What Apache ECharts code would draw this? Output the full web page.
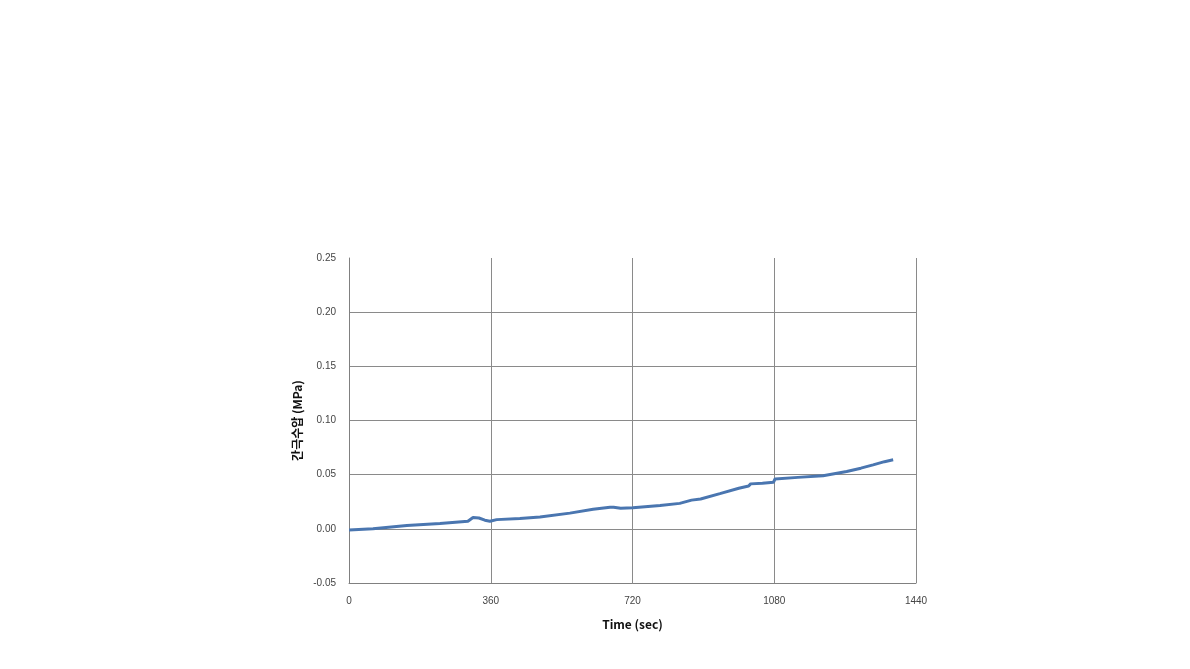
<!DOCTYPE html>
<html>
<head>
<meta charset="utf-8">
<script src="https://cdn.jsdelivr.net/npm/echarts@6/dist/echarts.min.js"></script>
<style>html,body{margin:0;padding:0;background:#fff;}#c{width:1190px;height:669px;}</style>
</head>
<body>
<div id="c"></div>
<script>
var timeSec = [0, 61, 147, 231, 302, 315, 330, 345, 358, 375, 434, 485, 561, 620, 663, 672, 690, 721, 790, 840, 870, 893, 942, 990, 1015, 1020, 1050, 1078, 1082, 1140, 1204, 1264, 1300, 1331, 1360, 1382];
var porePressure = [-0.001, 0.000, 0.003, 0.005, 0.007, 0.0105, 0.0100, 0.0080, 0.0070, 0.0085, 0.0095, 0.0110, 0.0145, 0.0180, 0.0200, 0.0200, 0.0190, 0.0195, 0.0215, 0.0235, 0.0265, 0.0275, 0.0325, 0.0375, 0.0395, 0.0415, 0.0420, 0.0430, 0.0460, 0.0475, 0.0490, 0.0530, 0.0560, 0.0590, 0.0620, 0.0637];
var xTicks = {min: 0, max: 1440, interval: 360};
var yTicks = {min: -0.05, max: 0.25, interval: 0.05};
var xTitle = 'Time (sec)';
var yTitle = '간극수압 (MPa)';

var data = timeSec.map(function (t, i) { return [t, porePressure[i]]; });
var chart = echarts.init(document.getElementById('c'));
chart.setOption({
  animation: false,
  grid: {left: 349, right: 274, top: 258, bottom: 86},
  xAxis: {
    type: 'value', min: xTicks.min, max: xTicks.max, interval: xTicks.interval,
    name: xTitle, nameLocation: 'middle', nameGap: 35,
    nameTextStyle: {fontFamily: 'Noto Sans CJK KR', fontSize: 12, fontWeight: 'bold', color: '#111'},
    axisLine: {onZero: false, lineStyle: {color: '#808080', width: 1}},
    axisTick: {show: false},
    axisLabel: {fontFamily: 'Liberation Sans', fontSize: 10, color: '#444', margin: 13,
      formatter: function (v) { return String(v); }},
    splitLine: {show: true, lineStyle: {color: '#8a8a8a', width: 1}}
  },
  yAxis: {
    type: 'value', min: yTicks.min, max: yTicks.max, interval: yTicks.interval,
    name: yTitle, nameLocation: 'middle', nameGap: 46,
    nameTextStyle: {fontFamily: 'Noto Sans CJK KR', fontSize: 12, fontWeight: 'bold', color: '#111'},
    axisLine: {show: true, lineStyle: {color: '#808080', width: 1}},
    axisTick: {show: false},
    axisLabel: {fontFamily: 'Liberation Sans', fontSize: 10, color: '#444', margin: 13,
      formatter: function (v) { return v.toFixed(2); }},
    splitLine: {show: true, lineStyle: {color: ['#8a8a8a', '#8a8a8a', '#8a8a8a', '#8a8a8a', '#8a8a8a', '#8a8a8a', 'rgba(0,0,0,0)'], width: 1}}
  },
  series: [{
    type: 'line', data: data, showSymbol: false, smooth: false,
    lineStyle: {color: '#4a76b0', width: 3}
  }]
});
</script>
</body>
</html>
